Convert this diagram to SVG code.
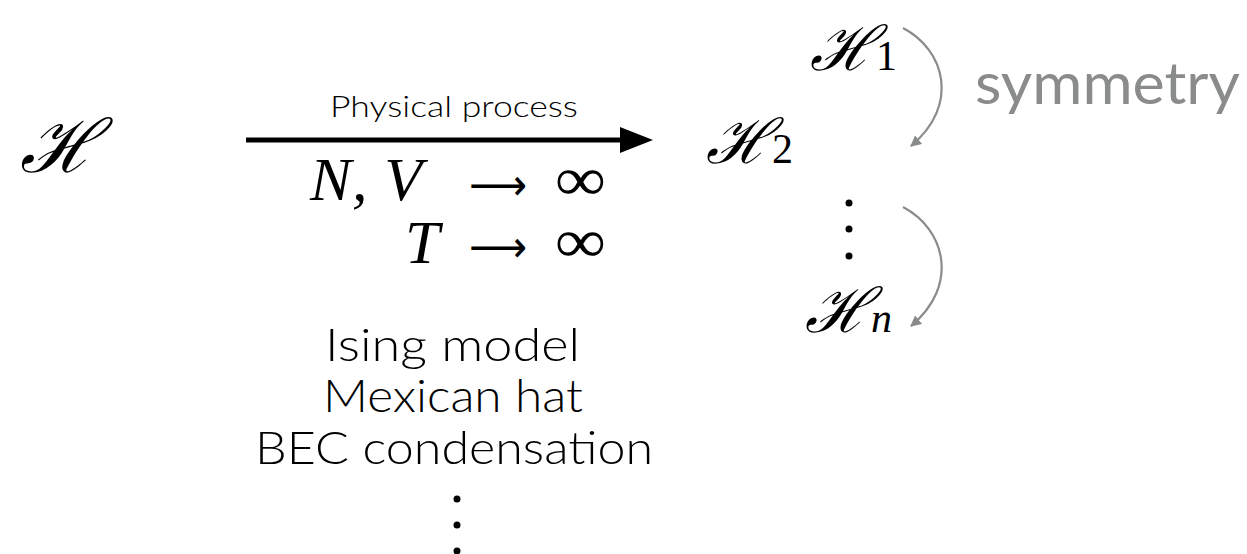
<svg xmlns="http://www.w3.org/2000/svg" width="1247" height="554" viewBox="0 0 1247 554">
<defs>
<marker id="ga" viewBox="0 0 10 10" refX="9" refY="5" markerWidth="5" markerHeight="5" orient="auto" markerUnits="strokeWidth"><path d="M0,0 L10,5 L0,10 z" fill="#8a8c8c"/></marker>
</defs>
<style>
.scr{font-family:"DejaVu Serif","Liberation Serif",serif;font-style:italic;fill:#000}
.mi{font-family:"Liberation Serif","DejaVu Serif",serif;font-style:italic;fill:#000}
.rm{font-family:"Liberation Serif","DejaVu Serif",serif;font-style:normal;fill:#000}
.ar{font-family:"DejaVu Sans",sans-serif;fill:#000}
.sans{font-family:Lato,"Open Sans",sans-serif;font-weight:300;fill:#000}
.arc{fill:none;stroke:#8a8c8c;stroke-width:2.2}
</style>
<rect width="1247" height="554" fill="#fff"/>
<g id="H"><text class="scr" x="20" y="172" font-size="74">ℋ</text></g>
<g id="process">
<text class="sans" x="330" y="117" font-size="30" textLength="248" lengthAdjust="spacingAndGlyphs">Physical process</text>
<text class="mi" x="310" y="200" font-size="62" textLength="112" lengthAdjust="spacing">N, V</text>
<text class="ar" x="469" y="200" font-size="44" textLength="58" lengthAdjust="spacingAndGlyphs">⟶</text>
<text class="rm" x="555" y="200" font-size="62" textLength="51" lengthAdjust="spacingAndGlyphs">∞</text>
<text class="mi" x="405" y="263" font-size="62">T</text>
<text class="ar" x="469" y="262" font-size="44" textLength="58" lengthAdjust="spacingAndGlyphs">⟶</text>
<text class="rm" x="555" y="262" font-size="62" textLength="51" lengthAdjust="spacingAndGlyphs">∞</text>
</g>
<g id="examples">
<text class="sans" x="325" y="361" font-size="46" textLength="255" lengthAdjust="spacingAndGlyphs">Ising model</text>
<text class="sans" x="323" y="412" font-size="46" textLength="260" lengthAdjust="spacingAndGlyphs">Mexican hat</text>
<text class="sans" x="255" y="464" font-size="46" textLength="398" lengthAdjust="spacingAndGlyphs">BEC condensation</text>
<circle cx="457" cy="499" r="3.5"/><circle cx="457" cy="525" r="3.5"/><circle cx="457" cy="551" r="3.5"/>
</g>
<g id="H1"><text class="scr" x="810" y="70" font-size="62">ℋ<tspan class="rm" font-size="42">1</tspan></text></g>
<g id="H2"><text class="scr" x="706" y="163" font-size="62">ℋ<tspan class="rm" font-size="42">2</tspan></text></g>
<g id="vdots"><circle cx="849" cy="203" r="3.5"/><circle cx="849" cy="229" r="3.5"/><circle cx="849" cy="256" r="3.5"/></g>
<g id="Hn"><text class="scr" x="805" y="332" font-size="62">ℋ<tspan class="mi" font-size="42">n</tspan></text></g>
<g id="symmetry"><text x="975" y="104" font-size="58" font-family="Lato,'Open Sans',sans-serif" fill="#8a8c8c" textLength="265" lengthAdjust="spacingAndGlyphs">symmetry</text></g>
<g id="connectors">
<line x1="246" y1="140" x2="622" y2="140" stroke="#000" stroke-width="5"/>
<path d="M620,127 L653,140 L620,153 z" fill="#000"/>
<path class="arc" d="M903,28 C945,50 960,105 911,146" marker-end="url(#ga)"/>
<path class="arc" d="M903,207 C945,229 960,285 911,326" marker-end="url(#ga)"/>
</g>
</svg>
